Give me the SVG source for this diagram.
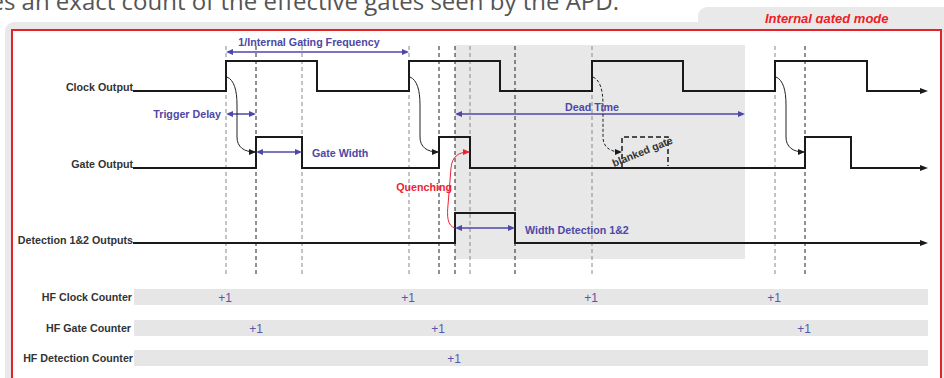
<svg xmlns="http://www.w3.org/2000/svg" width="944" height="378" viewBox="0 0 944 378">
<defs>
<style>
.lbl{font-family:"Liberation Sans",Arial,sans-serif;font-weight:bold;font-size:10.7px;fill:#333;text-anchor:end}
.blue{font-family:"Liberation Sans",Arial,sans-serif;font-weight:bold;font-size:10.7px;fill:#4e47a6}
.red{font-family:"Liberation Sans",Arial,sans-serif;font-weight:bold;font-size:10.7px;fill:#ee2233}
.plus{font-family:"Liberation Sans",Arial,sans-serif;font-size:12px;fill:#5b55ad;text-anchor:middle}
.wave{fill:none;stroke:#1a1a1a;stroke-width:2;marker-end:url(#axis)}
.vd{stroke:#222;stroke-width:1;stroke-dasharray:4 3}
.vg{stroke:#888;stroke-width:1;stroke-dasharray:4 3}
.dim{stroke:#4e47a6;stroke-width:1.5;fill:none;marker-start:url(#ba);marker-end:url(#ba)}
.cur{fill:none;stroke:#222;stroke-width:1;marker-end:url(#ka)}
.bar{fill:#e6e6e6}
.panel{fill:#e9e9e9}
</style>
<marker id="axis" viewBox="0 0 8 6" refX="2" refY="3" markerWidth="8" markerHeight="6" markerUnits="userSpaceOnUse" orient="auto"><path d="M0,0 L8,3 L0,6 z" fill="#1a1a1a"/></marker>
<marker id="ba" viewBox="0 0 7 6" refX="5" refY="3" markerWidth="7" markerHeight="6" markerUnits="userSpaceOnUse" orient="auto-start-reverse"><path d="M0,0 L7,3 L0,6 z" fill="#4e47a6"/></marker>
<marker id="ka" viewBox="0 0 7 6" refX="6" refY="3" markerWidth="7" markerHeight="6" markerUnits="userSpaceOnUse" orient="auto"><path d="M0,0 L7,3 L0,6 z" fill="#1a1a1a"/></marker>
<marker id="ra" viewBox="0 0 7 6" refX="6" refY="3" markerWidth="7" markerHeight="6" markerUnits="userSpaceOnUse" orient="auto"><path d="M0,0 L7,3 L0,6 z" fill="#ee2233"/></marker>
<clipPath id="tabclip"><rect x="690" y="0" width="254" height="23.6"/></clipPath>
</defs>

<rect width="944" height="378" fill="#ffffff"/>
<text x="619" y="9.5" font-family="'Open Sans','Noto Sans',sans-serif" font-size="24" fill="#555" text-anchor="end">gives an exact count of the effective gates seen by the APD.</text>

<g id="frame">
<rect class="panel" x="5" y="22" width="960" height="380" rx="9"/>
<rect class="panel" x="698" y="7" width="260" height="40" rx="9"/>
<g clip-path="url(#tabclip)"><text x="765" y="22.7" font-family="'Liberation Sans',Arial,sans-serif" font-weight="bold" font-style="italic" font-size="13" fill="#ee1c25">Internal gated mode</text></g>
<rect x="12" y="30" width="929" height="360" fill="#ffffff" stroke="#e8202a" stroke-width="2"/>
</g>

<rect id="dead-zone" x="455" y="45" width="290" height="214" fill="#e8e8e8"/>

<g id="guides">
<line class="vg" x1="226" y1="46" x2="226" y2="275"/>
<line class="vd" x1="256" y1="46" x2="256" y2="275"/>
<line class="vg" x1="302" y1="46" x2="302" y2="275"/>
<line class="vg" x1="409" y1="46" x2="409" y2="275"/>
<line class="vd" x1="439" y1="46" x2="439" y2="275"/>
<line class="vd" x1="455" y1="46" x2="455" y2="275"/>
<line class="vg" x1="470" y1="46" x2="470" y2="275"/>
<line class="vd" x1="515" y1="46" x2="515" y2="275"/>
<line class="vg" x1="592" y1="46" x2="592" y2="275"/>
<line class="vg" x1="775" y1="46" x2="775" y2="275"/>
<line class="vd" x1="805" y1="46" x2="805" y2="275"/>
</g>

<g id="clock">
<text class="lbl" x="133" y="91">Clock Output</text>
<path class="wave" d="M133,91 H226 V61 H317 V91 H409 V61 H500 V91 H592 V61 H683 V91 H775 V61 H867 V91 H922"/>
</g>

<g id="gate">
<text class="lbl" x="133" y="168">Gate Output</text>
<path class="wave" d="M133,168 H256 V137 H302 V168 H439 V137 H470 V168 H805 V137 H851 V168 H922"/>
<path d="M622,167 V137 H668 V166" fill="none" stroke="#1a1a1a" stroke-width="1.5" stroke-dasharray="5 3"/>
<text transform="translate(614,167) rotate(-22)" font-family="'Liberation Sans',Arial,sans-serif" font-weight="bold" font-size="10.5" fill="#333">blanked gate</text>
</g>

<g id="detection">
<text class="lbl" x="133" y="244">Detection 1&amp;2 Outputs</text>
<path class="wave" d="M133,243 H455 V213 H515 V243 H922"/>
</g>

<g id="connectors">
<line class="dim" x1="228" y1="52" x2="407" y2="52"/>
<line class="dim" x1="228" y1="114" x2="254" y2="114"/>
<line class="dim" x1="258" y1="152" x2="300" y2="152"/>
<line class="dim" x1="457" y1="114" x2="743" y2="114"/>
<line class="dim" x1="457" y1="228" x2="513" y2="228"/>
<path class="cur" d="M227,77 C234,80 237,90 237,105 L237,137 C237,147 244,152 255,152"/>
<path class="cur" d="M410,77 C417,80 420,90 420,105 L420,137 C420,147 427,152 438,152"/>
<path class="cur" d="M593,77 C600,80 603,90 603,105 L603,137 C603,147 610,152 621,152" stroke-dasharray="3 2"/>
<path class="cur" d="M776,77 C783,80 786,90 786,105 L786,137 C786,147 793,152 804,152"/>
<path d="M455,228 C447,226 447,215 448,205 L451,168 C452,157 458,152 469,152" fill="none" stroke="#ee2233" stroke-width="1" marker-end="url(#ra)"/>
</g>

<g id="annotations">
<text class="blue" x="309" y="45.5" text-anchor="middle">1/Internal Gating Frequency</text>
<text class="blue" x="221" y="117.5" text-anchor="end">Trigger Delay</text>
<text class="blue" x="312" y="157">Gate Width</text>
<text class="blue" x="592" y="111" text-anchor="middle">Dead Time</text>
<text class="blue" x="525" y="233.5">Width Detection 1&amp;2</text>
<text class="red" x="452" y="190.5" text-anchor="end">Quenching</text>
</g>

<g id="hf-clock-counter">
<rect class="bar" x="134" y="289" width="794" height="16"/>
<text class="lbl" x="132" y="301">HF Clock Counter</text>
<text class="plus" x="225" y="302">+1</text>
<text class="plus" x="408" y="302">+1</text>
<text class="plus" x="591" y="302">+1</text>
<text class="plus" x="774" y="302">+1</text>
</g>
<g id="hf-gate-counter">
<rect class="bar" x="134" y="320" width="794" height="16"/>
<text class="lbl" x="131" y="332">HF Gate Counter</text>
<text class="plus" x="256" y="333">+1</text>
<text class="plus" x="438" y="333">+1</text>
<text class="plus" x="804" y="333">+1</text>
</g>
<g id="hf-detection-counter">
<rect class="bar" x="134" y="350" width="794" height="16"/>
<text class="lbl" x="133" y="362">HF Detection Counter</text>
<text class="plus" x="454" y="363">+1</text>
</g>
</svg>
